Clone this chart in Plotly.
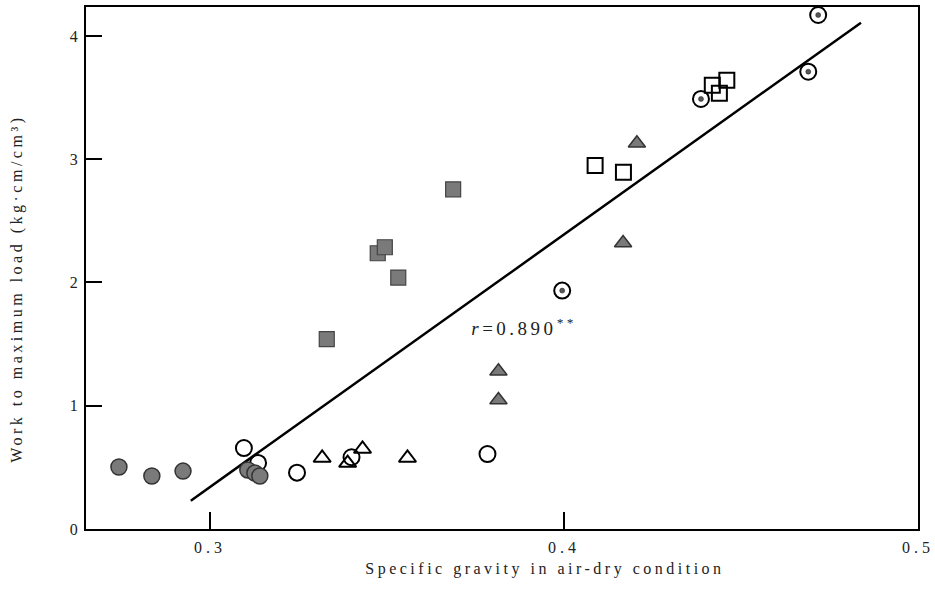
import plotly.graph_objects as go

# Data
gray_circle_x = [0.2743, 0.2836, 0.2924, 0.3107, 0.3127, 0.3141]
gray_circle_y = [0.503, 0.430, 0.470, 0.479, 0.454, 0.430]

open_circle_x = [0.3096, 0.3136, 0.3246, 0.3400, 0.3784]
open_circle_y = [0.657, 0.536, 0.457, 0.582, 0.608]

open_tri_x = [0.3317, 0.3389, 0.3431, 0.3558]
open_tri_y = [0.576, 0.535, 0.649, 0.576]

gray_tri_x = [0.3815, 0.3815, 0.4167, 0.4206]
gray_tri_y = [1.047, 1.280, 2.320, 3.130]

gray_sq_x = [0.3330, 0.3532, 0.3474, 0.3494, 0.3687]
gray_sq_y = [1.540, 2.040, 2.237, 2.286, 2.756]

open_sq_x = [0.4088, 0.4168, 0.4419, 0.4439, 0.4460]
open_sq_y = [2.950, 2.894, 3.600, 3.535, 3.640]

dot_circle_x = [0.3995, 0.4387, 0.4690, 0.4718]
dot_circle_y = [1.934, 3.489, 3.710, 4.170]

reg_x = [0.2946, 0.4839]
reg_y = [0.230, 4.108]

x_ticks = [0.3, 0.4, 0.5]
x_tick_labels = ["0.3", "0.4", "0.5"]
y_ticks = [0, 1, 2, 3, 4]
y_tick_labels = ["0", "1", "2", "3", "4"]

GRAY = "#7a7a7a"
FONT = "Liberation Serif"
TXT = "#222222"

fig = go.Figure()

fig.add_trace(go.Scatter(x=reg_x, y=reg_y, mode="lines",
                         line=dict(color="black", width=2.5), showlegend=False))
fig.add_trace(go.Scatter(x=open_circle_x, y=open_circle_y, mode="markers",
                         marker=dict(symbol="circle-open", size=16, color="black",
                                     line=dict(width=2, color="black")), showlegend=False))
fig.add_trace(go.Scatter(x=gray_circle_x, y=gray_circle_y, mode="markers",
                         marker=dict(symbol="circle", size=16, color=GRAY,
                                     line=dict(width=1.5, color="#333333")), showlegend=False))
fig.add_trace(go.Scatter(x=open_tri_x, y=open_tri_y, mode="markers",
                         marker=dict(symbol="triangle-up-open", size=15, color="black",
                                     line=dict(width=2, color="black")), showlegend=False))
fig.add_trace(go.Scatter(x=gray_tri_x, y=gray_tri_y, mode="markers",
                         marker=dict(symbol="triangle-up", size=15, color=GRAY,
                                     line=dict(width=1.5, color="#333333")), showlegend=False))
fig.add_trace(go.Scatter(x=gray_sq_x, y=gray_sq_y, mode="markers",
                         marker=dict(symbol="square", size=15, color=GRAY,
                                     line=dict(width=1.2, color="#444444")), showlegend=False))
fig.add_trace(go.Scatter(x=open_sq_x, y=open_sq_y, mode="markers",
                         marker=dict(symbol="square-open", size=15, color="black",
                                     line=dict(width=2, color="black")), showlegend=False))
fig.add_trace(go.Scatter(x=dot_circle_x, y=dot_circle_y, mode="markers",
                         marker=dict(symbol="circle-open", size=16, color="black",
                                     line=dict(width=2, color="black")), showlegend=False))
fig.add_trace(go.Scatter(x=dot_circle_x, y=dot_circle_y, mode="markers",
                         marker=dict(symbol="circle", size=5, color="#555555",
                                     line=dict(width=0.5, color="#222222")), showlegend=False))

fig.add_annotation(x=0.3777, y=1.639, xref="x", yref="y", xanchor="left", yanchor="middle",
                   text="<i>r</i>=0.890<sup>**</sup>", showarrow=False,
                   font=dict(family=FONT, size=19, color=TXT))

fig.add_annotation(x=0.552, y=-0.077, xref="paper", yref="paper", xanchor="center", yanchor="middle",
                   text="Specific gravity in air-dry condition", showarrow=False,
                   font=dict(family=FONT, size=16, color=TXT))
fig.add_annotation(x=-0.083, y=0.46, xref="paper", yref="paper", xanchor="center", yanchor="middle",
                   text="Work to maximum load (kg·cm/cm³)", showarrow=False, textangle=-90,
                   font=dict(family=FONT, size=16, color=TXT))

fig.update_xaxes(range=[0.265, 0.5], tickvals=x_ticks, ticktext=x_tick_labels,
                 ticks="inside", ticklen=17, tickwidth=2, tickcolor="black",
                 showline=True, linewidth=2, linecolor="black", mirror=True,
                 showgrid=False, zeroline=False, automargin=False, ticklabelstandoff=3,
                 tickfont=dict(family=FONT, size=16, color=TXT))
fig.update_yaxes(range=[0, 4.235], tickvals=y_ticks, ticktext=y_tick_labels,
                 ticks="inside", ticklen=16, tickwidth=2, tickcolor="black",
                 showline=True, linewidth=2, linecolor="black", mirror=True,
                 showgrid=False, zeroline=False, automargin=False, ticklabelstandoff=3,
                 tickfont=dict(family=FONT, size=16, color=TXT))

fig.update_layout(width=935, height=599,
                  margin=dict(l=86, r=17, t=7, b=70, autoexpand=False),
                  plot_bgcolor="white", paper_bgcolor="white")

css = ("var s=document.createElement('style');"
       "s.innerHTML='html,body{margin:0;padding:0}"
       " .annotation-text{letter-spacing:3.5px}"
       " .xtick text{letter-spacing:4px}';"
       "document.head.appendChild(s);")

fig.write_html("out.html", post_script=css, config={"displayModeBar": False})
